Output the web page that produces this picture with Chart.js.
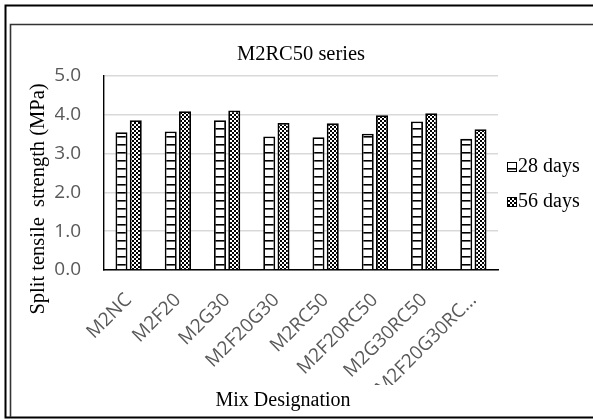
<!DOCTYPE html>
<html>
<head>
<meta charset="utf-8">
<script src="https://cdn.jsdelivr.net/npm/chart.js@4/dist/chart.umd.min.js"></script>
<style>
  html, body { margin: 0; padding: 0; background: #fff; }
  #wrap { width: 593px; height: 419px; }
</style>
</head>
<body>
<div id="wrap"><canvas id="c" width="593" height="419"></canvas></div>
<script>
// Mix designations and split tensile strength (MPa)
const mixes = ['M2NC', 'M2F20', 'M2G30', 'M2F20G30', 'M2RC50', 'M2F20RC50', 'M2G30RC50', 'M2F20G30RC...'];
const days28 = [3.55, 3.57, 3.86, 3.44, 3.42, 3.51, 3.83, 3.38];
const days56 = [3.86, 4.09, 4.11, 3.79, 3.78, 3.99, 4.04, 3.63];
const seriesNames = ['28 days', '56 days'];
const yTicks = [0, 1, 2, 3, 4, 5];

const chartTitle = 'M2RC50 series';
const xTitle = 'Mix Designation';
const yTitle = 'Split tensile  strength (MPa)';

const serif = 'Liberation Serif, Times New Roman, serif';
const sans = 'Open Sans, Liberation Sans, sans-serif';

// Fill patterns: horizontal rungs and a small checker
function stripePattern() {
  const c = document.createElement('canvas');
  c.width = 8; c.height = 8;
  const g = c.getContext('2d');
  g.fillStyle = '#fff'; g.fillRect(0, 0, 8, 8);
  g.fillStyle = '#000'; g.fillRect(0, 0, 8, 1.6);
  return g.createPattern(c, 'repeat');
}
function checkerPattern() {
  const c = document.createElement('canvas');
  c.width = 4; c.height = 4;
  const g = c.getContext('2d');
  g.fillStyle = '#fff'; g.fillRect(0, 0, 4, 4);
  g.fillStyle = '#000';
  g.fillRect(0, 0, 2, 2);
  g.fillRect(2, 2, 2, 2);
  return g.createPattern(c, 'repeat');
}

const ctx = document.getElementById('c').getContext('2d');

// Frame, axis titles and legend drawn around the plot
const decorations = {
  id: 'decorations',
  beforeDraw(chart) {
    const g = chart.ctx;
    g.save();
    g.fillStyle = '#fff';
    g.fillRect(0, 0, chart.width, chart.height);
    g.strokeStyle = '#000';
    g.lineWidth = 2;
    g.beginPath();
    g.moveTo(chart.width + 5, 5.5); g.lineTo(5.5, 5.5); g.lineTo(5.5, 417.5); g.lineTo(chart.width + 5, 417.5);
    g.stroke();
    g.strokeStyle = '#333';
    g.lineWidth = 1.6;
    g.beginPath();
    g.moveTo(chart.width + 5, 24.5); g.lineTo(10.5, 24.5); g.lineTo(10.5, 417);
    g.stroke();
    g.restore();
  },
  afterDraw(chart) {
    const g = chart.ctx;
    const a = chart.chartArea;
    g.save();
    g.fillStyle = '#000';
    // x axis title
    g.font = '20px ' + serif;
    g.textAlign = 'center';
    g.textBaseline = 'alphabetic';
    g.fillText(xTitle, a.left + 179, 406);
    // y axis title
    g.save();
    g.translate(39, 199);
    g.rotate(-Math.PI / 2);
    g.font = '20.5px ' + serif;
    g.textBaseline = 'middle';
    g.fillText(yTitle, 0, 0);
    g.restore();
    // legend
    const ds = chart.data.datasets;
    const lx = a.right + 9;
    const ly = [167, 202];
    g.font = '20px ' + serif;
    g.textAlign = 'left';
    g.textBaseline = 'middle';
    ds.forEach((d, i) => {
      g.fillStyle = d.backgroundColor;
      g.fillRect(lx, ly[i] - 5, 10, 10);
      g.strokeStyle = '#000';
      g.lineWidth = 1;
      g.strokeRect(lx + 0.5, ly[i] - 4.5, 9, 9);
      g.fillStyle = '#000';
      g.fillText(d.label, lx + 11, ly[i]);
    });
    g.restore();
  }
};

new Chart(ctx, {
  type: 'bar',
  data: {
    labels: mixes,
    datasets: [
      { label: seriesNames[0], data: days28, backgroundColor: stripePattern(), borderColor: '#000', borderWidth: 1.8 },
      { label: seriesNames[1], data: days56, backgroundColor: checkerPattern(), borderColor: '#000', borderWidth: 1.8 }
    ]
  },
  options: {
    responsive: false,
    animation: false,
    devicePixelRatio: 1,
    datasets: { bar: { categoryPercentage: 0.58, barPercentage: 0.84 } },
    layout: { padding: { left: 55, right: 95, top: 0, bottom: 34 } },
    plugins: {
      legend: { display: false },
      tooltip: { enabled: false },
      title: {
        display: true,
        text: chartTitle,
        fullSize: false,
        color: '#000',
        font: { family: serif, size: 20.5, weight: 'normal' },
        padding: { top: 42, bottom: 9.4 }
      }
    },
    scales: {
      x: {
        grid: { display: false, drawTicks: false },
        border: { display: true, color: '#000', width: 1.6 },
        ticks: {
          minRotation: 45, maxRotation: 45, padding: 19,
          color: '#595959',
          font: { family: sans, size: 19 }
        },
        afterFit(s) { s.height = 115; }
      },
      y: {
        min: 0, max: 5,
        afterBuildTicks(s) { s.ticks = yTicks.map(v => ({ value: v })); },
        grid: { color: '#d9d9d9', lineWidth: 1.6, drawTicks: false },
        border: { display: true, color: '#000', width: 1.4 },
        ticks: {
          padding: 23,
          color: '#595959',
          font: { family: sans, size: 19 },
          callback: v => Number(v).toFixed(1)
        },
        afterFit(s) { s.width = 49; }
      }
    }
  },
  plugins: [decorations]
});
</script>
</body>
</html>
